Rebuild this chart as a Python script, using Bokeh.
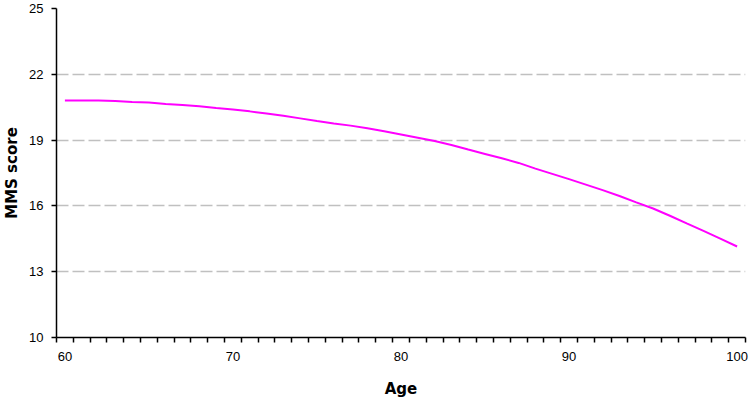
import numpy as np
from bokeh.plotting import figure
from bokeh.models import FixedTicker, Range1d
from bokeh.embed import file_html
from bokeh.resources import INLINE

ages = list(range(60, 101))
mms = [20.80, 20.80, 20.80, 20.78, 20.74, 20.71, 20.65, 20.60, 20.54, 20.46,
       20.40, 20.31, 20.21, 20.11, 19.99, 19.87, 19.76, 19.66, 19.54, 19.40,
       19.26, 19.11, 18.96, 18.78, 18.57, 18.37, 18.17, 17.96, 17.70, 17.46,
       17.22, 16.97, 16.72, 16.45, 16.16, 15.88, 15.55, 15.20, 14.86, 14.51,
       14.15]
x_labels = [60, 70, 80, 90, 100]
y_ticks = [10, 13, 16, 19, 22, 25]
grid_ticks = [13, 16, 19, 22]

p = figure(width=750, height=400, output_backend="svg", toolbar_location=None,
           x_range=Range1d(59.5, 100.5), y_range=Range1d(10, 25),
           min_border_left=56, min_border_right=5, min_border_top=8,
           min_border_bottom=62)
p.outline_line_color = None
p.background_fill_color = "white"
p.border_fill_color = "white"

p.line(ages, mms, line_color="#ff00ff", line_width=2)

# x axis: category-style ticks between values, labels at centres
xt = FixedTicker(ticks=x_labels, minor_ticks=list(np.arange(59.5, 101.0, 1.0)))
p.xaxis.ticker = xt
p.xaxis.major_tick_out = 0
p.xaxis.major_tick_in = 0
p.xaxis.minor_tick_out = 5
p.xaxis.minor_tick_in = 0
p.xaxis.minor_tick_line_color = "black"
p.xaxis.minor_tick_line_width = 1.5
p.xaxis.axis_line_width = 1.5
p.xaxis.major_label_standoff = 9
p.xaxis.axis_label = "Age"
p.xaxis.axis_label_standoff = 16

p.yaxis.ticker = FixedTicker(ticks=y_ticks, minor_ticks=[])
p.yaxis.major_tick_out = 5
p.yaxis.major_tick_in = 0
p.yaxis.major_tick_line_width = 1.5
p.yaxis.axis_line_width = 1.5
p.yaxis.major_label_standoff = 8
p.yaxis.axis_label = "MMS score"
p.yaxis.axis_label_standoff = 5

for ax in (p.xaxis, p.yaxis):
    ax.major_label_text_font = "Liberation Sans"
    ax.major_label_text_font_size = "13px"
    ax.major_label_text_color = "black"
    ax.axis_label_text_font = "DejaVu Sans"
    ax.axis_label_text_font_style = "bold"
    ax.axis_label_text_font_size = "15px"
    ax.axis_label_text_color = "black"
    ax.axis_line_color = "black"
    ax.major_tick_line_color = "black"

p.xgrid.grid_line_color = None
p.ygrid.ticker = FixedTicker(ticks=grid_ticks)
p.ygrid.grid_line_color = "#c0c0c0"
p.ygrid.grid_line_dash = "12 4"
p.ygrid.grid_line_width = 1.5

open("out.html", "w").write(file_html(p, INLINE))
